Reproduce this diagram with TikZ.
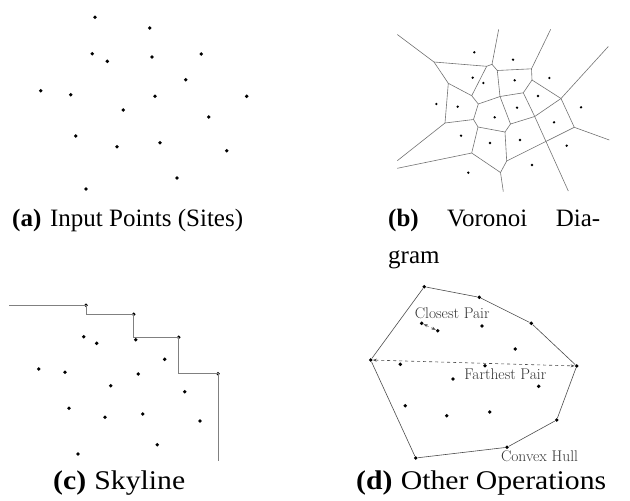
\documentclass[tikz,border=0pt]{standalone}
\usepackage{fontspec}
\usepackage{graphicx}
\newfontfamily\capfont{Liberation Serif}
\usetikzlibrary{arrows.meta}
\begin{document}
\begin{tikzpicture}[x=1pt,y=-1pt,
  dot/.style={circle,fill=black,inner sep=0pt,minimum size=3.8pt},
  vedge/.style={draw=black!55,line width=0.6pt},
  hull/.style={draw=black!70,line width=0.6pt},
  sky/.style={draw=black!50,line width=0.9pt},
  pair/.style={draw=black!70,dashed,line width=0.6pt,{Stealth[length=4pt,width=3pt]}-{Stealth[length=4pt,width=3pt]}},
  lbl/.style={font=\fontsize{15.5}{17}\selectfont,text=black!80,inner sep=0pt},
  captext/.style={font=\capfont\fontsize{25}{30}\selectfont,anchor=base west,inner sep=0pt},
  captextbig/.style={font=\capfont\fontsize{27}{32}\selectfont,anchor=base west,inner sep=0pt}]
\useasboundingbox (0,0) rectangle (630,501);

% ---------- (a) input points ----------
\node[dot] (a1) at (95,17.3) {};
\node[dot] (a2) at (149.7,28) {};
\node[dot] (a3) at (92.3,53.7) {};
\node[dot] (a4) at (107.3,61.3) {};
\node[dot] (a5) at (152,57) {};
\node[dot] (a6) at (201.3,54) {};
\node[dot] (a7) at (185.7,79.7) {};
\node[dot] (a8) at (40.7,90.7) {};
\node[dot] (a9) at (70.7,94.7) {};
\node[dot] (a10) at (155,96.3) {};
\node[dot] (a11) at (246.7,96.3) {};
\node[dot] (a12) at (123.3,110) {};
\node[dot] (a13) at (208.7,117) {};
\node[dot] (a14) at (75.7,136) {};
\node[dot] (a15) at (117,146.7) {};
\node[dot] (a16) at (160,142.7) {};
\node[dot] (a17) at (226.7,150.7) {};
\node[dot] (a18) at (177,178) {};
\node[dot] (a19) at (86,189) {};

% ---------- (b) Voronoi ----------
\coordinate (vA) at (434,62);
\coordinate (vB) at (486.7,66.3);
\coordinate (vB2) at (492,64.3);
\coordinate (v3) at (497.3,70.5);
\coordinate (v4) at (531.5,68.8);
\coordinate (v5) at (532,80);
\coordinate (v6) at (523.3,92.8);
\coordinate (v7) at (500,96.5);
\coordinate (vC) at (471.7,95.7);
\coordinate (vD) at (448.3,83.3);
\coordinate (vE) at (445,123);
\coordinate (vF) at (478.3,104);
\coordinate (vG) at (473.5,119.5);
\coordinate (vH) at (478,127);
\coordinate (vI) at (505,132);
\coordinate (vM) at (510.5,124);
\coordinate (v10) at (534.7,116.5);
\coordinate (v9) at (561,98.5);
\coordinate (v14) at (574.3,127.3);
\coordinate (vL) at (506.7,161);
\coordinate (vK) at (500.5,172.5);
\coordinate (vJ) at (471.7,153);
\coordinate (rA) at (397.3,34.5);
\coordinate (rB) at (498.7,29.3);
\coordinate (r4) at (550.7,29.3);
\coordinate (r9) at (608.3,46.5);
\coordinate (r14) at (609.3,140);
\coordinate (r10) at (568.3,191);
\coordinate (rK) at (503.3,191.5);
\coordinate (rJ) at (397.3,168.3);
\coordinate (rE) at (397.3,160.7);

\path[vedge] (rA) -- (vA) -- (vB) -- (vB2) -- (v3) -- (v4) -- (v5) -- (v6) -- (v10) -- (r10);
\path[vedge] (rB) -- (vB2);
\path[vedge] (r4) -- (v4);
\path[vedge] (v5) -- (v9) -- (r9);
\path[vedge] (v9) -- (v10);
\path[vedge] (v9) -- (v14) -- (r14);
\path[vedge] (v3) -- (v7) -- (v6);
\path[vedge] (v7) -- (vM) -- (v10);
\path[vedge] (v7) -- (vF);
\path[vedge] (vB) -- (vC) -- (vF) -- (vG) -- (vH) -- (vI) -- (vM);
\path[vedge] (vA) -- (vD) -- (vC);
\path[vedge] (vD) -- (vE) -- (vG);
\path[vedge] (vE) -- (rE);
\path[vedge] (vH) -- (vJ) -- (rJ);
\path[vedge] (vJ) -- (vK) -- (rK);
\path[vedge] (vK) -- (vL) -- (vI);
\path[vedge] (vL) -- (v14);

\node[dot,minimum size=2.6pt] (b1) at (474.3,52.3) {};
\node[dot,minimum size=2.6pt] (b2) at (513,59.7) {};
\node[dot,minimum size=2.6pt] (b3) at (472.7,77.7) {};
\node[dot,minimum size=2.6pt] (b4) at (483.3,83) {};
\node[dot,minimum size=2.6pt] (b5) at (514.7,80.3) {};
\node[dot,minimum size=2.6pt] (b6) at (549.3,78) {};
\node[dot,minimum size=2.6pt] (b7) at (538,96) {};
\node[dot,minimum size=2.6pt] (b8) at (436.3,104) {};
\node[dot,minimum size=2.6pt] (b9) at (457.7,106.7) {};
\node[dot,minimum size=2.6pt] (b10) at (517,107.7) {};
\node[dot,minimum size=2.6pt] (b11) at (581,107.3) {};
\node[dot,minimum size=2.6pt] (b12) at (494.7,117.3) {};
\node[dot,minimum size=2.6pt] (b13) at (554,122.3) {};
\node[dot,minimum size=2.6pt] (b14) at (461,135.7) {};
\node[dot,minimum size=2.6pt] (b15) at (490,143) {};
\node[dot,minimum size=2.6pt] (b16) at (520,140) {};
\node[dot,minimum size=2.6pt] (b17) at (566.7,145.7) {};
\node[dot,minimum size=2.6pt] (b18) at (532,165) {};
\node[dot,minimum size=2.6pt] (b19) at (468.3,172.7) {};

% ---------- (c) skyline ----------
\coordinate (s0) at (9,305.3);
\coordinate (s5) at (218,461);
\node[dot] (c1) at (86,305.3) {};
\node[dot] (c2) at (133.7,314.3) {};
\node[dot] (c3) at (178.7,337.3) {};
\node[dot] (c4) at (218,373.7) {};
\path[sky] (s0) -- (c1.center) |- (c2.center) |- (c3.center) |- (c4.center) -- (s5);
\node[dot] (c5) at (83.7,336.7) {};
\node[dot] (c6) at (96.7,343.3) {};
\node[dot] (c7) at (135.7,339.7) {};
\node[dot] (c8) at (164.7,359.3) {};
\node[dot] (c9) at (38.7,369) {};
\node[dot] (c10) at (65,372.3) {};
\node[dot] (c11) at (138.3,374) {};
\node[dot] (c12) at (110.7,385.7) {};
\node[dot] (c13) at (184.7,391.7) {};
\node[dot] (c14) at (69,408.3) {};
\node[dot] (c15) at (105,417.3) {};
\node[dot] (c16) at (142.7,414) {};
\node[dot] (c17) at (200,421) {};
\node[dot] (c18) at (157.3,444.7) {};
\node[dot] (c19) at (78,454) {};

% ---------- (d) other operations ----------
\node[dot] (h1) at (424.3,286.7) {};
\node[dot] (h2) at (479.3,297.3) {};
\node[dot] (h3) at (531.3,323.3) {};
\node[dot] (h4) at (576.7,366) {};
\node[dot] (h5) at (556.7,420) {};
\node[dot] (h6) at (507,447.3) {};
\node[dot] (h7) at (415.7,458) {};
\node[dot] (h8) at (370.7,360) {};
\path[hull] (h1) -- (h2) -- (h3) -- (h4) -- (h5) -- (h6) -- (h7) -- (h8) -- (h1);
\node[dot] (d1) at (482,326) {};
\node[dot] (d2) at (515.3,349) {};
\node[dot] (d3) at (400.3,364.3) {};
\node[dot] (d4) at (485,365.7) {};
\node[dot] (d5) at (453,379) {};
\node[dot] (d6) at (538.7,386.3) {};
\node[dot] (d7) at (405.3,405.7) {};
\node[dot] (d8) at (446.7,415.7) {};
\node[dot] (d9) at (489.7,412) {};
\node[dot] (cp1) at (421.7,323.3) {};
\node[dot] (cp2) at (437.7,330.7) {};
\path[pair] (cp1) -- (cp2);
\path[pair] (h8) -- (h4);
\node[lbl] (lcp) at (452.2,313.3) {Closest Pair};
\node[lbl] (lfp) at (505.3,374.3) {Farthest Pair};
\node[lbl] (lch) at (539.5,456.7) {Convex Hull};

% ---------- captions ----------
\node[captext] (capa) at (12,226) {\textbf{(a)}\hspace{0.35em}Input Points (Sites)};
\node[captext] (capb) at (388,226) {\hbox to 212pt{\textbf{(b)}\hfill Voronoi\hfill Dia-}};
\node[captext] (capb2) at (388,263) {gram};
\node[captextbig] (capc) at (53,489) {\scalebox{1.1}[1]{\textbf{(c)}\hspace{0.28em}Skyline}};
\node[captextbig] (capd) at (356,489) {\scalebox{1.1}[1]{\textbf{(d)}\hspace{0.28em}Other Operations}};
\end{tikzpicture}
\end{document}
